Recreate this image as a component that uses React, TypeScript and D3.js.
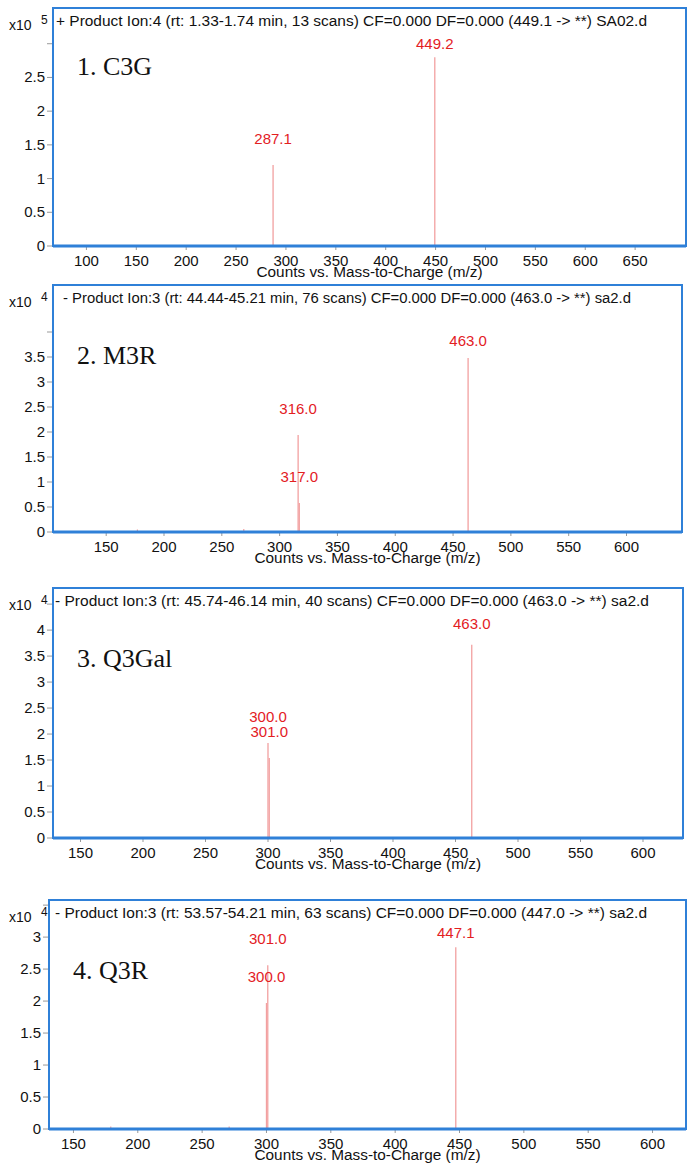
import React from 'react'
import * as d3 from 'd3'

// spectra: m/z of each labelled peak, its height (in units of the panel's x10^n) and label
const c3gMz = [287.1, 449.2]
const c3gInt = [1.2, 2.8]
const c3gLabels = ['287.1', '449.2']

const m3rMz = [316.0, 317.0, 463.0]
const m3rInt = [1.94, 0.58, 3.48]
const m3rLabels = ['316.0', '317.0', '463.0']
// tiny unlabelled peaks
const m3rSmallMz = [177, 269]
const m3rSmallInt = [0.05, 0.06]

const q3galMz = [300.0, 301.0, 463.0]
const q3galInt = [1.83, 1.54, 3.72]
const q3galLabels = ['300.0', '301.0', '463.0']

const q3rMz = [300.0, 301.0, 447.1]
const q3rInt = [1.97, 2.56, 2.84]
const q3rLabels = ['300.0', '301.0', '447.1']
const q3rSmallMz = [179, 271]
const q3rSmallInt = [0.04, 0.04]

const names = ['1. C3G', '2. M3R', '3. Q3Gal', '4. Q3R']
const exponents = ['5', '4', '4', '4']
const headers = [
  '+ Product Ion:4 (rt: 1.33-1.74 min, 13 scans) CF=0.000 DF=0.000 (449.1 -> **) SA02.d',
  '- Product Ion:3 (rt: 44.44-45.21 min, 76 scans) CF=0.000 DF=0.000 (463.0 -> **) sa2.d',
  '- Product Ion:3 (rt: 45.74-46.14 min, 40 scans) CF=0.000 DF=0.000 (463.0 -> **) sa2.d',
  '- Product Ion:3 (rt: 53.57-54.21 min, 63 scans) CF=0.000 DF=0.000 (447.0 -> **) sa2.d'
]
const xTicks1 = [100, 150, 200, 250, 300, 350, 400, 450, 500, 550, 600, 650]
const xTicks = [150, 200, 250, 300, 350, 400, 450, 500, 550, 600]
const yTicks1 = [0, 0.5, 1, 1.5, 2, 2.5, 3]
const yTicks2 = [0, 0.5, 1, 1.5, 2, 2.5, 3, 3.5, 4]
const yTicks3 = [0, 0.5, 1, 1.5, 2, 2.5, 3, 3.5, 4, 4.5]
const yTicks4 = [0, 0.5, 1, 1.5, 2, 2.5, 3, 3.5]
const xTitle = 'Counts vs. Mass-to-Charge (m/z)'

const SANS = '"Liberation Sans", Arial, sans-serif'
const SERIF = '"Liberation Serif", "Times New Roman", serif'
const BLUE = '#2f80d8'
const PEAK = '#f2a0a0'
const RED = '#e3201f'

const panels = [
  {mz: c3gMz, val: c3gInt, labels: c3gLabels, smallMz: [], smallVal: [], xt: xTicks1, yt: yTicks1,
    left: 53, right: 686, top: 8, base: 246, xDom: [66.5, 701], yMax: 3.53,
    headX: 56, headLen: 591, nameDy: 66.5, topGap: 8},
  {mz: m3rMz, val: m3rInt, labels: m3rLabels, smallMz: m3rSmallMz, smallVal: m3rSmallInt, xt: xTicks, yt: yTicks2,
    left: 53, right: 682, top: 285, base: 532, xDom: [104, 648], yMax: 4.94,
    headX: 63, headLen: 568, nameDy: 79, topGap: 12},
  {mz: q3galMz, val: q3galInt, labels: q3galLabels, smallMz: [], smallVal: [], xt: xTicks, yt: yTicks3,
    left: 53, right: 683, top: 588, base: 838, xDom: [128, 632], yMax: 4.81,
    headX: 55, headLen: 594, nameDy: 79, topGap: 16},
  {mz: q3rMz, val: q3rInt, labels: q3rLabels, smallMz: q3rSmallMz, smallVal: q3rSmallInt, xt: xTicks, yt: yTicks4,
    left: 49, right: 686, top: 900, base: 1129, xDom: [131, 626], yMax: 3.58,
    headX: 55, headLen: 592, nameDy: 79, topGap: 9}
]

function Panel({p, i}: {p: any; i: number}) {
  const x = d3.scaleLinear().domain(p.xDom).range([p.left, p.right])
  const y = d3.scaleLinear().domain([0, p.yMax]).range([p.base, p.top])
  const tallest = d3.maxIndex(p.val)
  const headY = p.top + 18
  const topTick = p.yt[p.yt.length - 1]

  return (
    <g>
      {/* y ticks */}
      {p.yt.map((t: number) => (
        <g key={'y' + t}>
          <line x1={p.left - 6} x2={p.left} y1={y(t)} y2={y(t)} stroke="#999" strokeWidth={1} />
          {t !== topTick && (
            <text x={p.left - 8} y={y(t) + 5} textAnchor="end" fontSize={15} fontFamily={SANS} fill="#111">
              {String(t)}
            </text>
          )}
        </g>
      ))}
      {/* x ticks */}
      {p.xt.map((t: number) => (
        <g key={'x' + t}>
          <line x1={x(t)} x2={x(t)} y1={p.base} y2={p.base + 4} stroke="#999" strokeWidth={1} />
          <text x={x(t)} y={p.base + 20} textAnchor="middle" fontSize={15} fontFamily={SANS} fill="#111">
            {t}
          </text>
        </g>
      ))}
      <text x={(p.left + p.right) / 2} y={p.base + 31} textAnchor="middle" fontSize={15.5}
        fontFamily={SANS} fill="#111" textLength={226} lengthAdjust="spacingAndGlyphs">
        {xTitle}
      </text>

      {/* small peaks */}
      {p.smallMz.map((m: number, k: number) => (
        <line key={'s' + k} x1={x(m)} x2={x(m)} y1={p.base} y2={y(p.smallVal[k])} stroke={PEAK} strokeWidth={1.2} />
      ))}
      {/* peaks */}
      {p.mz.map((m: number, k: number) => (
        <line key={'p' + k} x1={x(m)} x2={x(m)} y1={p.base} y2={y(p.val[k])} stroke={PEAK} strokeWidth={1.3} />
      ))}
      {p.mz.map((m: number, k: number) => (
        <text key={'l' + k} x={x(m)} y={y(p.val[k]) - (k === tallest ? p.topGap : 21)} textAnchor="middle"
          fontSize={15} fontFamily={SANS} fill={RED}>
          {p.labels[k]}
        </text>
      ))}

      {/* frame */}
      <rect x={p.left} y={p.top} width={p.right - p.left} height={p.base - p.top} fill="none" stroke={BLUE} strokeWidth={2} />
      <line x1={p.left} x2={p.right} y1={p.base} y2={p.base} stroke={BLUE} strokeWidth={3} />

      {/* header */}
      <text x={p.headX} y={headY} fontSize={14} fontFamily={SANS} fill="#111" textLength={p.headLen} lengthAdjust="spacingAndGlyphs">
        {headers[i]}
      </text>
      <text x={9} y={headY + 4} fontSize={14} fontFamily={SANS} fill="#111">x10</text>
      <text x={41} y={headY - 2} fontSize={12} fontFamily={SANS} fill="#111">{exponents[i]}</text>

      <text x={p.left + 24} y={p.top + p.nameDy} fontSize={26} fontFamily={SERIF} fill="#111">
        {names[i]}
      </text>
    </g>
  )
}

export default function App() {
  return (
    <svg width={692} height={1168} style={{position: 'absolute', left: 0, top: 0, background: '#fff'}}>
      <rect width={692} height={1168} fill="#fff" />
      {panels.map((p, i) => (
        <Panel key={i} p={p} i={i} />
      ))}
    </svg>
  )
}
